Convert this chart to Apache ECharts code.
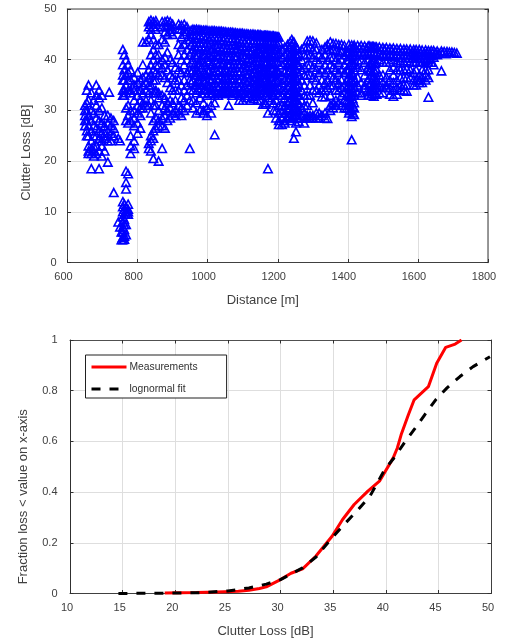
<!DOCTYPE html>
<html><head><meta charset="utf-8">
<style>html,body{margin:0;padding:0;background:#fff}#c{width:508px;height:642px}</style>
<script src="https://cdn.jsdelivr.net/npm/echarts@6/dist/echarts.min.js"></script>
</head><body><div id="c"></div>
<script>
// each row: distance [m], then clutter loss [dB] values read at that distance
const scatterLeft = [
[650,31,30,29,28,27],[655,34,31.5,30,28,26,25],[660,35,32,29,27,25,23,22,21.5],[668,33.5,30,28,26,24,22.5,21.5,18.5],
[675,32,29.5,27,25,23,22,21],[682,35,33,31,28.5,26.5,25,23,21.5],[690,34,32.5,30,28,26,24.5,22,18.5],[698,33,30.5,27.5,25.5,24,23,21],
[706,29,27,25.5,24.5,22],[715,29,27.5,26,25,24,19.8],[719,33.6],[724,28.5,27,25.5,24],[732,28,26.5,25,13.8],[745,24.5,8],[750,24,7],[754,6,4.5],
[758,42,39,37,36,34,33,12,11,10,9,8,7,6,5,4.5],[762,41,38,36,34,33,11.5,10.5,9.5,8.5,7.5,6.5,5.2,4.6],[767,40,37,35,33.5,30.5,28,18,15.8,14.5,11,10,9.5,7.5,5.5],
[773,39,37.5,36,34,31,29,27.5,17.5,11.5,10.5,10,9.5],[780,38,36,34,33.5,30,28,25,23,21.5],[790,36.5,35,34,32,30,28.5,27,24,22.5],
[800,37.5,35.5,34,33,31,29.5,27.5,25.5],[808,36,34,32,30.5,29,26.5],[815,43.5,39,36.5,35,33.5,31.5,30.5],[824,43.5,37,35.5,34,32,31],
[832,47.5,46.5,44,38,36.5,35,33.5,31,23.5,22.5],[838,47.8,47,46,45,41,39,37,35,32,29.5,25,24,22],[845,47.5,46.5,44,42,40,38,36,33.5,31,28,26,24.5,20.5],
[852,47.7,47,46,43,41,39,37.5,36,34,33.5,31,28.5,26.5],[860,43,41,39,37,33.5,32.5,30,28,27,20],[870,47.5,46.5,44,40,38.5,37,33,31,28.5,27,22.5],
[878,47.5,46.5,45.5,43.5,40.5,39,36.5,32.5,30.5,29,26.5],[885,47.7,46.8,45,41.5,38,35.5,31.5,30,28],[893,47.5,46.5,45.5,40,37,34.5,32,30.5,28.5],
[900,47,46,45,39.5,36.5,34,31.5,29.5],[908,38.5,36,34,32,30,29],[917,47,46,43,41,38,36,34,31,29.5],[925,46.8,46,44.5,42.5,40,37.5,35,32.5,30.5,29],
[933,47,46,45,43,41,39,36,34,32,30],[941,46.5,45.5,44,42,40,37.5,35,33,31],[949,44,41,38,36,34,32,22.5]
];
const scatterMiddle = [
[958,46,45,43.5,42,40,38,36,34,32,30.5],[968,46,45,43.5,42,40.5,38,37,35,33.5,31.5,29.5],[978,45.9,44.8,43.3,42,40,39,37,35.5,34,32.5,30],
[988,45.8,44.8,43.5,42,41,39.5,37.5,36,34,31.5,30,29.5],[998,45.8,44.5,43.3,41.8,40,38,37,35,34,33,30.5,29],[1010,45.7,44.5,43.5,42,40.5,39,37,36,34.5,33.3,31,29.5],
[1020,45.7,44.6,43,41.5,40,38.5,37,35.5,34,33,25.2,31.5],[1030,45.6,44.4,43,42,40.8,39,37.5,36,34.5,33],[1040,45.6,44.5,43.5,42,40.5,39,37,35.5,34,33.5],
[1050,45.5,44.4,43,41.8,40,38,36.5,35,34,33.3],[1060,45.4,44.3,43,41.5,40.2,39,37.5,36,34.5,33.5,31],[1070,45.4,44.2,43,41.8,40,38.5,37,36,34,33],
[1080,45.3,44.2,43.2,42,40.5,38.5,37,35.5,34,33.4],[1090,45.2,44,42.8,41.5,40,39,37.5,36,34.5,33,32],[1100,45.2,44,42.6,41,39.8,38.5,37,35.5,34.2,33.5,32],
[1112,45.1,44,42.8,41.5,40,38.5,37,35.5,34,32.5],[1122,45,44,42.5,41.2,39.5,38,36.5,35,33.5,32],[1132,45,43.8,42.6,41,39.5,37.5,36,34.8,33.3,32.3],
[1142,44.9,43.7,42,40.5,39,37.5,35.5,34,33,32],[1150,44.9,43.8,42.5,41,38.5,37,36,34.5,33,32],[1158,44.8,43.6,42,40.5,38,36.5,35,33.5,31.2],
[1165,44.8,43.5,42,41,39,37,34.5,33,31.5,31.2],[1172,44.8,43.6,42,40.5,38,36,35,33.5,32.5,29.5,18.5],[1180,44.7,43.5,42,40,38.5,36.5,35,33.5,32],
[1188,44.7,43.5,42,40.5,39,37,35.5,34,33,31.5,30],[1195,44.6,43.4,42,40.5,38,36,34.5,33.5,32,30,28.5],[1203,44.5,43.4,41.5,39,37.5,36,34.5,33,31,29.5,28,27.2],
[1212,42,40.5,39,37,35.5,34,33,31,29.5,28.5,27.2],[1220,42.5,41,39.5,37.5,36,34,32.5,31,29.5,28,27.5],[1228,43,41.5,40,39,37.5,36,34.5,33,31.5,30,28.5],
[1235,43.5,42.5,41,39.5,38,36.5,35,33.5,32,30.5,29,28],[1240,44,43,41.5,40,38.5,37,35.5,34,32.5,31,29.5,28.5],[1246,43.5,42,40.5,39,37.5,36,34.5,33,31.5,30,28.5,24.5],
[1252,42.5,41,39.5,38,36.5,35,33.5,32,30,29,27.5,25.8],[1260,41,39,37,35,33,31.5,30,28.5,27.8],[1268,42,40,38,36,34,32,30.5,29],
[1276,42.5,41,38.5,37,35,33,31,29.5,28.5,27.5],[1284,43.7,42.5,41,39,37,33,31,29,28.5],[1292,43.8,42.5,41,39,37,35,33,29,28.5],
[1300,43.7,42,40.5,38.5,36.5,34,31.5,29,28.6],[1310,43.3,42,40,38,36,34,29.5,28.5],[1318,41,39.5,37.5,35,33.5,29.5,28.5],[1326,42,40.5,38,36,34,32.7,29],
[1335,42.5,41,39,37.5,35.5,34,32.7,29.5,28.5],[1342,43,42,40,38,36,34.5,28.4],[1350,43.5,42,40.5,39,37,35,33,31,30],[1358,43.2,42,40.5,38.5,36.5,35,31.5,30.5],
[1366,43.2,41.8,40,38,36,34,32,31],[1374,43,41.5,39.5,37.5,35.5,34,31.5],[1382,43,41.5,40,38,36,34.5,33,31],[1390,42.8,41,39,37.5,35,33.5,32,30.5],
[1397,41.5,40,38,36,34.5,33,32,30.5],[1403,43,41.5,40,38,36.5,35,33.5,32,30.5,29.5],[1411,42.9,41.5,39.5,37.5,36,34.5,33,31.5,30,28.8,24.2],[1418,42.9,41.5,40,38,36,34.5,33,31.5,30.5,29.2],
[1428,42.8,41.5,40,38.5,36.5,35,33.5],[1438,42.8,41.7,40,38,35.5,33.5,33],[1448,42.7,41.5,39.5,37,35,34.5],[1458,42.7,41.5,40,38.5,36,34,33],
[1466,42.6,41.4,39.5,38,37,35.5,34,33],[1474,42.6,41.5,40,38,36.5,35,34,32.8],[1482,42.5,41.3,39.5,38,36,34.5,33.2],[1490,42.5,41.2,40,37,35,33.5],
[1500,42.4,41,39.5,37,35.5,34.5,33.5],[1510,42.4,41.2,39.5,36.5,35,34.5],[1520,42.3,41,39.5,38,36,34.5,33.2],[1530,42.3,41.2,40,38.5,37,35.5,34,32.8]
];
const scatterRight = [
[1540,42.2,41,39.5,38,36,34.5,33.2],[1550,42.2,41,39.8,38,36.5,35,34],[1560,42.1,41,39.5,38,36.5,35,34],[1568,42.1,41,39.8,38.2,36.5,35,33.8],
[1578,42.1,41,39.5,38,36.5],[1588,42,41,39.5,37.5,36,35],[1595,42,41,39.5,38,36,35],[1604,42,40.8,39.5,37,36,35.5],[1612,41.9,40.8,39.5,38,36.5,35.5],
[1622,41.9,41,39.8,38,37,36],[1630,41.8,40.8,39.5,38,36.5,32.6],[1638,41.8,40.8,39.5],[1645,41.8,40.5,39],[1655,41.7,41],[1667,41.7,37.8],
[1675,41.6],[1683,41.6],[1690,41.5],[1697,41.5],[1704,41.4],[1711,41.3]
];
// denser readings where the markers merge into solid blue
const scatterSolid = [
[953,45.8,44.6,43,41.5,39.5,37.5,35.5],[963,45.9,44.3,42.7,41,39,37,35],[973,45.9,44.3,42.7,41,39,37.5,35.8,34.5],[983,45.8,44.2,42.7,40.8,38.5,36.7,35,33.4],
[993,45.8,44.1,42.6,41,39,37.2,35.6,34.2],[1004,45.7,44.1,42.7,41.1,39.6,37.8,36.2,34.8,33.5],[1015,45.7,44,42.3,40.8,39.2,37.6,36.3,34.8,33.5],[1025,45.6,44,42.5,41,39.5,37.8,36.2,34.8,33.4],
[1035,45.6,44,42.5,41,39.5,38,36.4,34.9,33.6],[1045,45.5,43.9,42.4,40.8,39.2,37.6,36,34.7,33.7],[1055,45.4,43.8,42.2,40.8,39.3,37.9,36.2,34.8,33.6],[1065,45.4,43.7,42.2,40.7,39.2,37.7,36.4,34.8,33.5],
[1075,45.3,43.8,42.3,40.8,39.2,37.6,36.2,34.7,33.6],[1085,45.2,43.7,42.1,40.7,39.3,37.8,36.2,34.8,33.5],[1095,45.2,43.5,42,40.5,39.2,37.8,36.2,34.8,33.6],[1106,45.1,43.5,42,40.5,39.2,37.8,36.2,34.7,33.4],
[1117,45,43.4,41.8,40.2,38.8,37.2,35.8,34.5,33],[1127,45,43.4,41.8,40.2,38.8,37.2,35.8,34.2,32.8],[1137,44.9,43.3,41.5,39.8,38.2,36.7,35.2,33.8],[1146,44.9,43.2,41.5,39.8,38,36.2,34.8,33.5],
[1154,44.8,43.2,41.2,39.3,37.7,35.7,34.2],[1162,44.8,43,41.3,39.7,37.8,35.8,34.2],[1169,44.8,43,41.3,39.5,37.5,35.6,33.9],[1176,44.7,43,41.2,39.2,37.4,35.7,34.2],
[1184,44.7,43,41.2,39.7,37.8,36,34.7,33],[1192,44.6,43,41.2,39.5,37.6,35.8,34.2],[1199,44.5,43,41,39.5,37.8,35.8,34],
[1232,42.3,40.7,39.2,37.8,36.2,34.8,33.3,31.8,30.2,28.8],[1243,43.4,42,40.7,39.2,37.8,36.3,34.8,33.3,31.8,30.3,29],[1250,42.8,41.2,39.8,38.2,36.8,35.2,33.8,32.2,30.5,29.2],[1256,42.2,40.6,39,37.6,36,34.5,33,31.5,30,28.5],
[1405,42.2,40.6,39,37.2,35.8,34.3,32.8,31.2,30],[1414,42.3,40.8,39,37,35.5,33.8,32.3,30.8,29.5],[1461,42.7,41.1,39,37.8,36.5,35,33.7],[1470,42.6,41,39.3,37.6,36.2,34.5,33.4],[1478,42.5,40.9,39.2,37.5,35.8,34.5,33.2],
[1420,42.4,41,39],[1433,42.3,41],[1443,42.3,41],[1453,42.2,41],[1495,42,40.8],[1505,42,40.7],[1515,41.9,40.7],[1525,41.9,40.8],[1535,41.8,40.6],[1545,41.7,40.5],[1555,41.7,40.4],[1565,41.6,40.4],[1575,41.6,40.5],[1585,41.5,40.4],[1592,41.5,40.3],[1600,41.5,40.3],[1608,41.4,40.2],[1618,41.4,40.3],[1626,41.4,40.1],[1634,41.3,40.3],[1642,41.3],[1650,41.3],[1660,41.3],[1670,41.3],[1680,41.2]
];
const measuredLoss = [19,22,24,26,27,28,28.65,30,31,32.1,33.35,34.9,35.9,37,38.3,39.4,40.7,41.1,41.46,42.15,42.7,44.05,44.84,45.7,46.6,47.2];
const measuredFraction = [0.002,0.004,0.006,0.009,0.013,0.02,0.026,0.055,0.08,0.097,0.147,0.226,0.292,0.351,0.404,0.443,0.534,0.574,0.626,0.705,0.764,0.816,0.908,0.971,0.984,1];
const fitLoss = [14.6,18,22.3,25,27,28.65,30,32.1,33.4,34.9,36.2,37.4,38.5,39.9,40.9,41.85,42.8,43.7,44.8,45.8,47.05,48.3,49.9];
const fitFraction = [0,0.001,0.003,0.01,0.022,0.037,0.055,0.101,0.145,0.22,0.279,0.332,0.384,0.489,0.541,0.6,0.652,0.705,0.767,0.81,0.856,0.895,0.934];
const distanceTicks = [600,800,1000,1200,1400,1600,1800];
const legendNames = ['Measurements','lognormal fit'];

const points = [];
[scatterLeft, scatterMiddle, scatterRight, scatterSolid].forEach(function (rows) {
  rows.forEach(function (r) { r.slice(1).forEach(function (v) { points.push([r[0], v]); }); });
});
const zip = function (a, b) { return a.map(function (v, i) { return [v, b[i]]; }); };

const FONT = 'Liberation Sans';
const TXT = '#404040';
const gridLine = { show: true, lineStyle: { color: '#dedede', width: 1 } };
function xA(grid, min, max, interval, name, pad, gap, lineCol) {
  return { type: 'value', gridIndex: grid, min: min, max: max, interval: interval, name: name, nameLocation: 'middle', nameGap: gap,
    nameTextStyle: { color: TXT, fontFamily: FONT, fontSize: 13, padding: [0, 30, 0, 0] },
    axisLine: { show: true, onZero: false, lineStyle: { color: lineCol, width: 1 } },
    axisTick: { show: true, inside: true, length: 3.5, lineStyle: { color: '#303030' } },
    axisLabel: { color: TXT, fontFamily: FONT, fontSize: 11, margin: 9, padding: pad, showMinLabel: true, showMaxLabel: true, hideOverlap: false, formatter: function (v) { return String(v); } },
    splitLine: gridLine };
}
function yA(grid, min, max, interval, name, gap, lineCol, margin, bump, namePad) {
  return { type: 'value', gridIndex: grid, min: min, max: max, interval: interval, name: name, nameLocation: 'middle', nameGap: gap,
    nameTextStyle: { color: TXT, fontFamily: FONT, fontSize: 13, padding: [0, namePad, 0, 0] },
    axisLine: { show: true, onZero: false, lineStyle: { color: lineCol, width: 1 } },
    axisTick: { show: true, inside: true, length: 3.5, lineStyle: { color: '#303030' } },
    axisLabel: { color: TXT, fontFamily: FONT, fontSize: 11, margin: margin, padding: [0, 0, bump, 0], showMinLabel: true, showMaxLabel: true, hideOverlap: false, formatter: function (v) { return String(v); } },
    splitLine: gridLine };
}
function mirror(base, pos, col, w) {
  return Object.assign({}, base, { position: pos, name: '', axisLabel: { show: false }, splitLine: { show: false },
    axisLine: { show: true, onZero: false, lineStyle: { color: col, width: w } } });
}
const x0 = xA(0, distanceTicks[0], distanceTicks[6], 200, 'Distance [m]', [0, 8, 0, 0], 31, '#404040');
const y0 = yA(0, 0, 50, 10, 'Clutter Loss [dB]', 35, '#404040', 11, 7, 34);
const x1 = xA(1, 10, 50, 5, 'Clutter Loss [dB]', [0, 6, 0, 0], 31, '#404040');
const y1 = yA(1, 0, 1, 0.2, 'Fraction loss < value on x-axis', 40, '#303030', 12.5, 10, 60);

const option = {
  animation: false,
  backgroundColor: '#fff',
  textStyle: { fontFamily: FONT },
  grid: [
    { left: 67.5, top: 9, width: 420.5, height: 253.5 },
    { left: 70, top: 340, width: 421, height: 253.5 }
  ],
  xAxis: [x0, x1, mirror(x0, 'top', '#808080', 1.6), mirror(x1, 'top', '#505050', 1)],
  yAxis: [y0, y1, mirror(y0, 'right', '#808080', 1.6), mirror(y1, 'right', '#404040', 1)],
  legend: {
    show: true, orient: 'vertical', left: 85.5, top: 355, itemWidth: 35, itemHeight: 8, itemGap: 12,
    padding: [7, 29, 4, 4.5], borderColor: '#202020', borderWidth: 1, backgroundColor: '#fff',
    itemStyle: { color: 'rgba(0,0,0,0)', borderWidth: 0 },
    lineStyle: { width: 3 },
    textStyle: { color: '#303030', fontFamily: FONT, fontSize: 10.3, padding: [-6, 0, 0, -2] },
    data: legendNames
  },
  series: [
    { type: 'scatter', xAxisIndex: 0, yAxisIndex: 0, symbol: 'triangle', symbolSize: [8.5, 8], clip: false, z: 3,
      itemStyle: { color: 'rgba(0,0,0,0)', borderColor: '#0000ff', borderWidth: 1.6, opacity: 1 }, data: points },
    { type: 'line', name: legendNames[0], xAxisIndex: 1, yAxisIndex: 1, showSymbol: false, symbol: 'none', z: 4,
      lineStyle: { color: '#ff0000', width: 3 }, itemStyle: { color: '#ff0000' }, data: zip(measuredLoss, measuredFraction) },
    { type: 'line', name: legendNames[1], xAxisIndex: 1, yAxisIndex: 1, showSymbol: false, symbol: 'none', z: 5,
      lineStyle: { color: '#000', width: 3, type: [9, 9] }, itemStyle: { color: '#000' }, data: zip(fitLoss, fitFraction) }
  ]
};
echarts.init(document.getElementById('c'), null, { renderer: 'canvas' }).setOption(option);
</script></body></html>
